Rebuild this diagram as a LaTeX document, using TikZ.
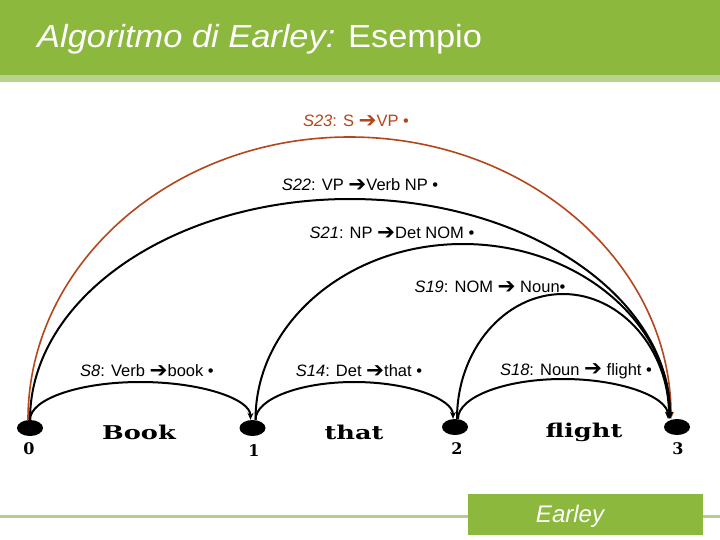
\documentclass[tikz,border=0pt]{standalone}
\usepackage{fontspec}
\setmainfont{Liberation Sans}
\newfontfamily\dvs{DejaVu Sans}
\newfontfamily\slab{DejaVu Serif}
\usetikzlibrary{arrows.meta,shapes.geometric}
\definecolor{hdr}{HTML}{8BB83D}
\definecolor{stripe}{HTML}{B6D38F}
\definecolor{bline}{HTML}{B5CC95}
\definecolor{rust}{HTML}{B4461C}
\newcommand{\hvarr}{\raisebox{-0.5pt}{\scalebox{1.3}{\dvs\bfseries ➔}}}
\begin{document}
\begin{tikzpicture}[x=1pt,y=-1pt,
  dotnode/.style={ellipse,fill=black,minimum width=26pt,minimum height=16pt,inner sep=0pt},
  numlab/.style={font=\slab\bfseries\fontsize{16}{16}\selectfont,inner sep=0pt},
  wordlab/.style={font=\slab\bfseries\fontsize{19}{19}\selectfont,inner sep=0pt},
  lab/.style={font=\fontsize{16.5}{17}\selectfont,inner sep=0pt},
  arcline/.style={line width=2pt,-{Stealth[length=7pt,width=6pt]}},
  rustarc/.style={line width=1.6pt,draw=rust,-{Stealth[length=7pt,width=6pt]}}]
\useasboundingbox (0,0) rectangle (720,540);
\fill[white] (0,0) rectangle (720,540);
% header
\fill[hdr] (0,0) rectangle (720,75);
\fill[stripe] (0,75) rectangle (720,82);
\node[anchor=base west,text=white,inner sep=0pt,font=\fontsize{32}{34}\selectfont] (title) at (37,48) {\scalebox{1.075}[1]{\textit{Algoritmo di Earley:} Esempio}};
% footer
\draw[bline,line width=3pt] (0,516) -- (720,516);
\node[fill=hdr,minimum width=235pt,minimum height=41pt,inner sep=0pt] (foot) at (585.5,514.5) {};
\node[text=white,inner sep=0pt,font=\fontsize{24}{24}\selectfont\itshape] (footlab) at (570,516) {Earley};
% chart nodes
\node[dotnode] (n0) at (30,428) {};
\node[dotnode] (n1) at (252.5,428) {};
\node[dotnode] (n2) at (455,427) {};
\node[dotnode] (n3) at (677,427) {};
\node[numlab] (c0) at (29,449) {0};
\node[numlab] (c1) at (254,451) {1};
\node[numlab] (c2) at (457,449) {2};
\node[numlab] (c3) at (678,449) {3};
\node[wordlab] (w0) at (139,432) {\scalebox{1.35}[1]{Book}};
\node[wordlab] (w1) at (354,432) {\scalebox{1.35}[1]{that}};
\node[wordlab] (w2) at (584,432) {\scalebox{1.35}[1]{flight}};
% arcs
\draw[rustarc] ([xshift=-2pt]n0.north) .. controls (28,263.7) and (171.9,137) .. (349.5,137)
   .. controls (527.1,137) and (671,262.7) .. ([xshift=-6pt]n3.north);
\draw[arcline] (n0.north) .. controls (30,298) and (173.3,199) .. (350,199)
   .. controls (526.7,199) and (670,297) .. ([xshift=-7pt]n3.north);
\draw[arcline] ([xshift=3pt]n1.north) .. controls (255.5,322.8) and (348.3,244) .. (462.75,244)
   .. controls (577.2,244) and (670,321.8) .. ([xshift=-7pt]n3.north);
\draw[arcline] ([xshift=2pt]n2.north) .. controls (457,350) and (504.5,294) .. (563,294)
   .. controls (621.5,294) and (669,350) .. ([xshift=-8pt]n3.north);
\draw[arcline] (n0.north) .. controls (30,399) and (79.4,382) .. (140.25,382)
   .. controls (201.1,382) and (250.5,399) .. ([xshift=-2pt]n1.north);
\draw[arcline] ([xshift=3pt]n1.north) .. controls (255.5,399) and (299.75,382) .. (354.25,382)
   .. controls (408.75,382) and (453,399) .. ([xshift=-2pt]n2.north);
\draw[arcline] ([xshift=3pt]n2.north) .. controls (458,397) and (505,379) .. (563,379)
   .. controls (621,379) and (668,397) .. ([xshift=-9pt]n3.north);
% labels
\node[lab,text=rust] (l23) at (356,121) {\textit{S23}: S \hvarr VP •};
\node[lab] (l22) at (360,185) {\textit{S22}: VP \hvarr Verb NP •};
\node[lab] (l21) at (392,233) {\textit{S21}: NP \hvarr Det NOM •};
\node[lab] (l19) at (490,287) {\textit{S19}: NOM \hvarr\ Noun•};
\node[lab] (l8) at (147,371) {\textit{S8}: Verb \hvarr book •};
\node[lab] (l14) at (359,371) {\textit{S14}: Det \hvarr that •};
\node[lab] (l18) at (576,371) {\textit{S18}: Noun \hvarr\ flight •};
\end{tikzpicture}
\end{document}
